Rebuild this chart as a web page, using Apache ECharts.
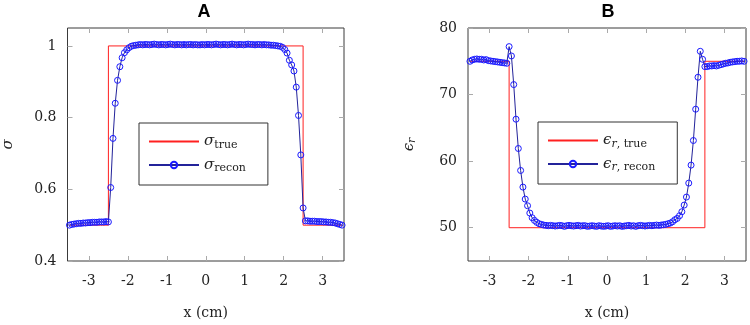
<!DOCTYPE html>
<html>
<head>
<meta charset="utf-8">
<script src="https://cdn.jsdelivr.net/npm/echarts@6/dist/echarts.min.js"></script>
<style>
  html, body { margin: 0; padding: 0; background: #fff; }
  #chart { width: 750px; height: 325px; }
</style>
</head>
<body>
<div id="chart"></div>
<script>
// sample positions (cm)
const xs = [
  -3.500,-3.441,-3.382,-3.324,-3.265,-3.206,-3.147,-3.088,-3.029,-2.971,
  -2.912,-2.853,-2.794,-2.735,-2.676,-2.618,-2.559,-2.500,-2.441,-2.382,
  -2.324,-2.265,-2.206,-2.147,-2.088,-2.029,-1.971,-1.912,-1.853,-1.794,
  -1.735,-1.676,-1.618,-1.559,-1.500,-1.441,-1.382,-1.324,-1.265,-1.206,
  -1.147,-1.088,-1.029,-0.971,-0.912,-0.853,-0.794,-0.735,-0.676,-0.618,
  -0.559,-0.500,-0.441,-0.382,-0.324,-0.265,-0.206,-0.147,-0.088,-0.029,
  0.029,0.088,0.147,0.206,0.265,0.324,0.382,0.441,0.500,0.559,
  0.618,0.676,0.735,0.794,0.853,0.912,0.971,1.029,1.088,1.147,
  1.206,1.265,1.324,1.382,1.441,1.500,1.559,1.618,1.676,1.735,
  1.794,1.853,1.912,1.971,2.029,2.088,2.147,2.206,2.265,2.324,
  2.382,2.441,2.500,2.559,2.618,2.676,2.735,2.794,2.853,2.912,
  2.971,3.029,3.088,3.147,3.206,3.265,3.324,3.382,3.441,3.500
];

// reconstructed conductivity
const sigmaRecon = [
  0.500,0.502,0.503,0.504,0.505,0.505,0.506,0.506,0.507,0.507,
  0.508,0.508,0.508,0.509,0.509,0.509,0.510,0.509,0.605,0.742,
  0.840,0.904,0.942,0.967,0.981,0.989,0.995,0.999,1.001,1.002,
  1.003,1.004,1.003,1.004,1.004,1.003,1.004,1.005,1.004,1.003,
  1.004,1.004,1.003,1.004,1.005,1.004,1.003,1.004,1.004,1.003,
  1.004,1.003,1.004,1.004,1.003,1.004,1.003,1.003,1.004,1.003,
  1.004,1.004,1.003,1.004,1.005,1.004,1.003,1.004,1.004,1.003,
  1.004,1.005,1.004,1.003,1.004,1.004,1.003,1.004,1.005,1.004,
  1.004,1.003,1.004,1.004,1.003,1.004,1.003,1.003,1.002,1.002,
  1.001,1.000,0.999,0.996,0.990,0.980,0.960,0.947,0.930,0.885,
  0.806,0.696,0.548,0.512,0.512,0.511,0.511,0.511,0.510,0.510,
  0.510,0.509,0.509,0.508,0.508,0.507,0.506,0.504,0.502,0.500
];

// reconstructed relative permittivity
const epsRecon = [
  75.0,75.2,75.3,75.35,75.3,75.3,75.2,75.25,75.1,75.05,
  75.0,74.95,74.9,74.85,74.8,74.75,74.7,77.2,75.8,71.5,
  66.3,61.9,58.6,56.1,54.3,53.3,52.2,51.5,51.1,50.8,
  50.6,50.5,50.4,50.35,50.3,50.35,50.3,50.25,50.3,50.35,
  50.3,50.2,50.3,50.35,50.3,50.25,50.3,50.35,50.25,50.3,
  50.3,50.2,50.25,50.3,50.25,50.2,50.3,50.25,50.2,50.25,
  50.3,50.2,50.25,50.3,50.25,50.3,50.2,50.25,50.3,50.35,
  50.25,50.3,50.2,50.3,50.35,50.3,50.25,50.3,50.35,50.3,
  50.35,50.4,50.35,50.4,50.45,50.5,50.6,50.7,50.9,51.2,
  51.4,51.8,52.4,53.4,54.6,56.7,59.4,63.1,67.8,72.6,
  76.5,75.3,74.2,74.2,74.3,74.3,74.35,74.3,74.4,74.5,
  74.6,74.7,74.75,74.85,74.9,74.95,75.0,75.0,75.05,75.0
];

// true step profiles
const trueX = [-3.5, -2.5, -2.5, 2.5, 2.5, 3.5];
const sigmaTrue = [0.5, 0.5, 1, 1, 0.5, 0.5];
const epsTrue = [75, 75, 50, 50, 75, 75];

const xTicks = [-3, -2, -1, 0, 1, 2, 3];
const sigmaTicks = [0.4, 0.6, 0.8, 1];
const epsTicks = [50, 60, 70, 80];

const serif = 'DejaVu Serif';
const ink = '#222';
const rich = {
  m: { fontFamily: serif, fontStyle: 'italic', fontSize: 15, lineHeight: 18, color: ink },
  mi: { fontFamily: serif, fontStyle: 'italic', fontSize: 11, lineHeight: 11, verticalAlign: 'bottom', color: ink },
  s: { fontFamily: serif, fontSize: 11, lineHeight: 11, verticalAlign: 'bottom', color: ink }
};
const legendText = {
  sigma_true: '{m|σ}{s|true}',
  sigma_recon: '{m|σ}{s|recon}',
  eps_true: '{m|ϵ}{mi|r}{s|, true}',
  eps_recon: '{m|ϵ}{mi|r}{s|, recon}'
};

const zip = (a, b) => a.map((v, i) => [v, b[i]]);

const chart = echarts.init(document.getElementById('chart'));

// every axis gets its own copy of the tick list (echarts may touch it)
function tick(values) {
  return { show: true, inside: true, length: 5, customValues: values.slice(), lineStyle: { color: '#aaa', width: 1 } };
}

function bottomX(g) {
  return {
    type: 'value', gridIndex: g, position: 'bottom', min: -3.55, max: 3.55,
    axisLine: { show: false, onZero: false },
    axisTick: tick(xTicks),
    axisLabel: { customValues: xTicks.slice(), margin: 13, fontFamily: serif, fontSize: 14, color: ink },
    splitLine: { show: false },
    name: 'x (cm)', nameLocation: 'middle', nameGap: 45,
    nameTextStyle: { fontFamily: serif, fontSize: 14, color: ink }
  };
}
function topX(g) {
  return {
    type: 'value', gridIndex: g, position: 'top', min: -3.55, max: 3.55,
    axisLine: { show: false, onZero: false },
    axisTick: tick(xTicks),
    axisLabel: { show: false }, splitLine: { show: false }
  };
}
function leftY(g, min, max, ticks, name) {
  return {
    type: 'value', gridIndex: g, position: 'left', min: min, max: max,
    axisLine: { show: false, onZero: false },
    axisTick: tick(ticks),
    axisLabel: { customValues: ticks.slice(), margin: 11, fontFamily: serif, fontSize: 14, color: ink },
    splitLine: { show: false },
    name: name, nameLocation: 'middle', nameGap: 50, nameRotate: 90,
    nameTextStyle: { rich: rich }
  };
}
function rightY(g, min, max, ticks) {
  return {
    type: 'value', gridIndex: g, position: 'right', min: min, max: max,
    axisLine: { show: false, onZero: false },
    axisTick: tick(ticks),
    axisLabel: { show: false }, splitLine: { show: false }
  };
}

function trueSeries(name, xi, yi, data) {
  return {
    name: name, type: 'line', xAxisIndex: xi, yAxisIndex: yi, data: data,
    symbol: 'none', lineStyle: { color: '#ff2020', width: 1 },
    itemStyle: { color: '#ff2020' }, z: 2
  };
}
function reconSeries(name, xi, yi, data) {
  return {
    name: name, type: 'line', xAxisIndex: xi, yAxisIndex: yi, data: data,
    symbol: 'circle', symbolSize: 6,
    lineStyle: { color: '#23239a', width: 1 },
    itemStyle: { color: 'rgba(255,255,255,0)', borderColor: '#1a1aff', borderWidth: 1 },
    z: 3
  };
}

function legendBox(names, left, top) {
  return {
    data: [
      { name: names[0], itemStyle: { color: 'rgba(0,0,0,0)', borderWidth: 0, opacity: 0 } },
      { name: names[1] }
    ],
    left: left, top: top, orient: 'vertical',
    selectedMode: false,
    backgroundColor: '#fff', borderColor: '#333', borderWidth: 1, borderRadius: 0,
    padding: [11, 22, 11, 9],
    itemWidth: 50, itemHeight: 8, itemGap: 7,
    formatter: n => legendText[n],
    textStyle: { rich: rich }
  };
}

chart.setOption({
  animation: false,
  backgroundColor: '#fff',
  graphic: [
    { type: 'text', x: 204, y: 3, style: { text: 'A', fontFamily: 'Liberation Sans', fontWeight: 'bold', fontSize: 18, fill: '#000', align: 'center', verticalAlign: 'top' } },
    { type: 'text', x: 608, y: 3, style: { text: 'B', fontFamily: 'Liberation Sans', fontWeight: 'bold', fontSize: 18, fill: '#000', align: 'center', verticalAlign: 'top' } }
  ],
  grid: [
    { left: 65, top: 28, width: 279, height: 237, show: true, borderColor: '#3a3a3a', borderWidth: 1 },
    { left: 468, top: 28, width: 278, height: 237, show: true, borderColor: '#3a3a3a', borderWidth: 1 }
  ],
  xAxis: [bottomX(0), topX(0), bottomX(1), topX(1)],
  yAxis: [
    leftY(0, 0.4, 1.05, sigmaTicks, '{m|σ}'),
    rightY(0, 0.4, 1.05, sigmaTicks),
    leftY(1, 45, 80, epsTicks, '{m|ϵ}{mi|r}'),
    rightY(1, 45, 80, epsTicks)
  ],
  legend: [
    legendBox(['sigma_true', 'sigma_recon'], 139, 123),
    legendBox(['eps_true', 'eps_recon'], 538, 122)
  ],
  series: [
    trueSeries('sigma_true', 0, 0, zip(trueX, sigmaTrue)),
    reconSeries('sigma_recon', 0, 0, zip(xs, sigmaRecon)),
    trueSeries('eps_true', 2, 2, zip(trueX, epsTrue)),
    reconSeries('eps_recon', 2, 2, zip(xs, epsRecon))
  ]
});
window.addEventListener('resize', () => chart.resize());
</script>
</body>
</html>
